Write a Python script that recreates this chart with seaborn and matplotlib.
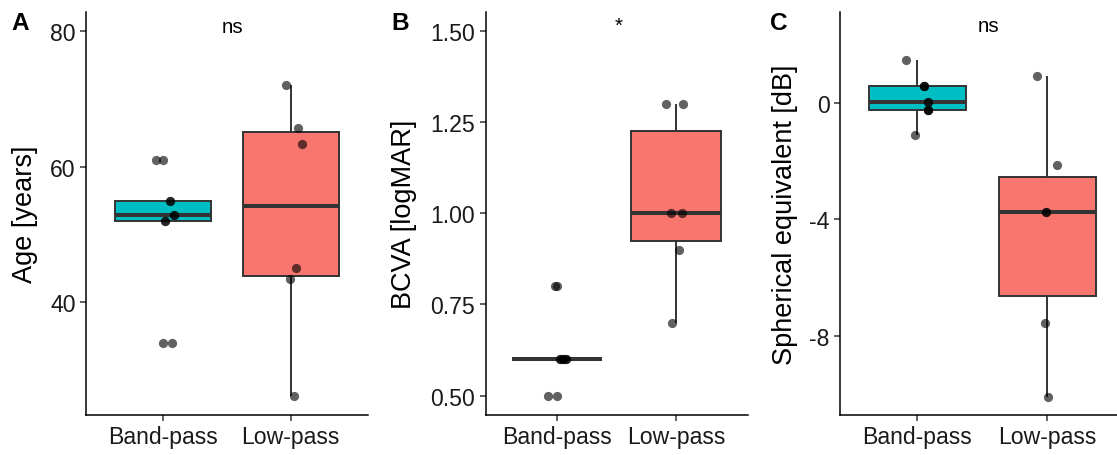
import numpy as np
import pandas as pd
import seaborn as sns
import matplotlib
matplotlib.use("Agg")
import matplotlib.pyplot as plt

# ---------------- data ----------------
groups = ["Band-pass", "Low-pass"]
colors = ["#00BFC4", "#F8766D"]

age_band = [34, 34, 52, 52, 52.9, 52.9, 55, 55, 61, 61]
age_low = [72, 65.7, 63.3, 45, 43.4, 26.2]
bcva_band = [0.5, 0.5, 0.6, 0.6, 0.6, 0.6, 0.6, 0.6, 0.8, 0.8]
bcva_low = [1.3, 1.3, 1.0, 1.0, 0.9, 0.7]
se_band = [1.49, 0.6, 0.6, 0.6, 0.03, 0.03, -0.23, -0.23, -0.23, -1.08]
se_low = [0.93, -2.13, -3.75, -3.75, -7.57, -10.1]

# horizontal jitter of each point
age_band_jit = [0.0, 0.07, 0.016, 0.016, 0.086, 0.086, 0.055, 0.055, -0.052, 0.003]
age_low_jit = [-0.034, 0.057, 0.086, 0.042, -0.003, 0.023]
bcva_band_jit = [-0.073, 0.003, 0.025, 0.053, 0.075, 0.025, 0.053, 0.075, -0.02, 0.0]
bcva_low_jit = [-0.084, 0.054, -0.042, 0.047, 0.028, -0.037]
se_band_jit = [-0.089, 0.054, 0.054, 0.054, 0.08, 0.08, 0.082, 0.082, 0.082, -0.02]
se_low_jit = [-0.082, 0.072, -0.012, -0.012, -0.018, 0.005]

ylabels = ["Age [years]", "BCVA [logMAR]", "Spherical equivalent [dB]"]
panel_letters = ["A", "B", "C"]
sig_labels = ["ns", "*", "ns"]
yticks = [[40, 60, 80], [0.5, 0.75, 1.0, 1.25, 1.5], [0, -4, -8]]
yticklabels = [["40", "60", "80"], ["0.50", "0.75", "1.00", "1.25", "1.50"], ["0", "-4", "-8"]]

# ---------------- style ----------------
sns.set_theme(style="ticks")
plt.rcParams["font.family"] = ["Liberation Sans", "DejaVu Sans"]

W, H = 1117, 456
fig = plt.figure(figsize=(W / 100, H / 100), dpi=100)

def px_axes(left, right, top, bottom):
    return fig.add_axes([left / W, 1 - bottom / H, (right - left) / W, (bottom - top) / H])

panels = [
    dict(band=age_band, low=age_low, bj=age_band_jit, lj=age_low_jit,
         box=(86, 367.6), xlim=(-0.6, 1.6), ylim=(23.38, 82.79),
         sig=(0.547, 79.9), ylab_x=25),
    dict(band=bcva_band, low=bcva_low, bj=bcva_band_jit, lj=bcva_low_jit,
         box=(485.7, 747.5), xlim=(-0.6, 1.6), ylim=(0.447, 1.551),
         sig=(0.52, 1.5), ylab_x=404.5),
    dict(band=se_band, low=se_low, bj=se_band_jit, lj=se_low_jit,
         box=(840, 1117), xlim=(-0.595, 1.536), ylim=(-10.72, 3.13),
         sig=(0.55, 2.46), ylab_x=784.5),
]
letter_x = [20.5, 400.3, 779]

for i, p in enumerate(panels):
    ax = px_axes(p["box"][0], p["box"][1], 13, 416)
    df = pd.DataFrame({
        "group": [groups[0]] * len(p["band"]) + [groups[1]] * len(p["low"]),
        "value": list(p["band"]) + list(p["low"]),
    })
    df["xpos"] = [0 + j for j in p["bj"]] + [1 + j for j in p["lj"]]

    sns.boxplot(data=df, x="group", y="value", hue="group", order=groups,
                hue_order=groups, palette=colors, saturation=1, width=0.75,
                showfliers=False, showcaps=False, linecolor="#333333",
                linewidth=1.4, legend=False, ax=ax,
                medianprops=dict(linewidth=2.9, color="#333333"))
    sns.scatterplot(data=df, x="xpos", y="value", color="black", alpha=0.62,
                    s=44, linewidth=0, ax=ax, zorder=5, legend=False)

    ax.set_xlim(*p["xlim"])
    ax.set_ylim(*p["ylim"])
    ax.set_xticks([0, 1])
    ax.set_xticklabels(groups)
    ax.set_yticks(yticks[i])
    ax.set_yticklabels(yticklabels[i])
    ax.set_xlabel("")
    ax.set_ylabel(ylabels[i], fontsize=19.5, color="black")
    ax.yaxis.label.set_va("center")
    lab_x_axes = (p["ylab_x"] - p["box"][0]) / (p["box"][1] - p["box"][0])
    ax.yaxis.set_label_coords(lab_x_axes, 0.5)

    for s in ["top", "right"]:
        ax.spines[s].set_visible(False)
    for s in ["left", "bottom"]:
        ax.spines[s].set_linewidth(1.1)
        ax.spines[s].set_color("black")
    ax.tick_params(axis="both", labelsize=16.6, length=4, width=1.1,
                   color="#333333", labelcolor="#1a1a1a", pad=3.5)
    ax.patch.set_alpha(0)

    ax.text(p["sig"][0], p["sig"][1], sig_labels[i], ha="center", va="baseline",
            fontsize=14.8, color="black")

    fig.text(letter_x[i] / W, 1 - 29.5 / H, panel_letters[i], ha="center",
             va="baseline", fontsize=17.6, fontweight="bold", color="black")

fig.savefig("out.png", dpi=100)
